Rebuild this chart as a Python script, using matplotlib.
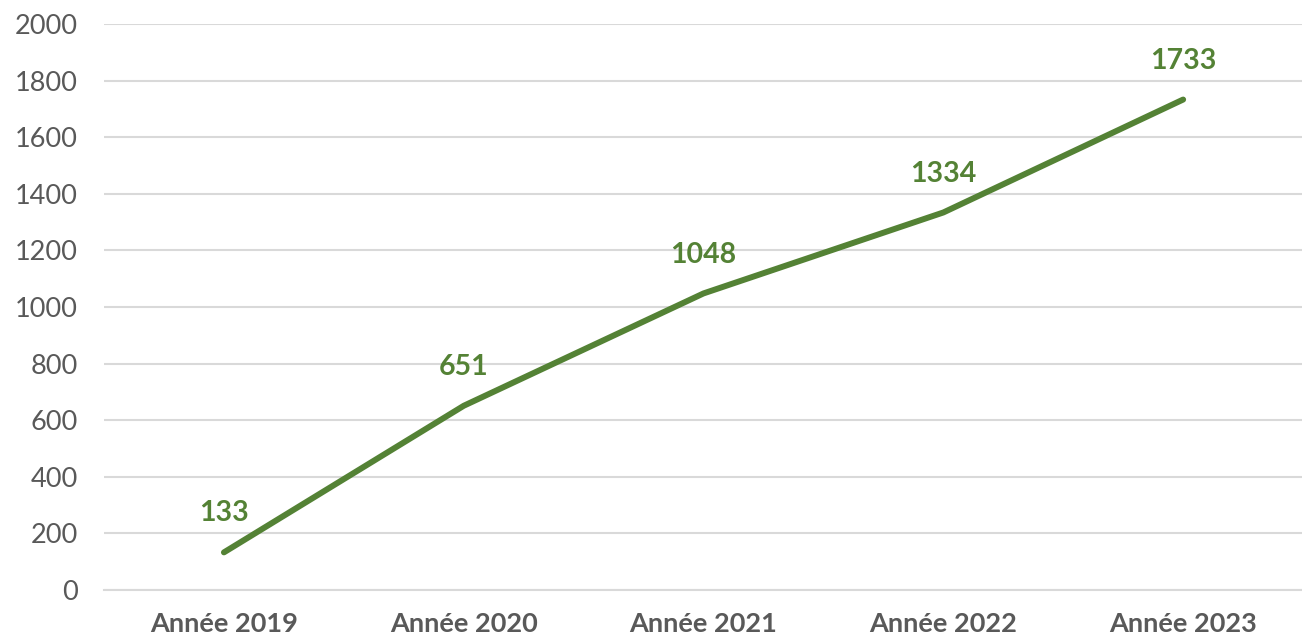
import matplotlib
matplotlib.use("Agg")
import matplotlib.pyplot as plt

# data
years = ["Année 2019", "Année 2020", "Année 2021", "Année 2022", "Année 2023"]
values = [133, 651, 1048, 1334, 1733]
yticks = [0, 200, 400, 600, 800, 1000, 1200, 1400, 1600, 1800, 2000]

green = "#548235"
grey_text = "#595959"

plt.rcParams["font.family"] = ["Lato", "DejaVu Sans"]

fig = plt.figure(figsize=(13.02, 6.43), dpi=100)
ax = fig.add_axes([0.0799, 0.0824, 0.9209, 0.8803])

x = list(range(len(years)))
ax.plot(x, values, color=green, linewidth=4.3, solid_capstyle="round", zorder=3)

for xi, v in zip(x, values):
    ax.annotate(str(v), (xi, v), xytext=(0, 28), textcoords="offset points",
                ha="center", va="center", color=green, fontsize=20.5, fontweight="bold")

ax.set_xlim(-0.5, 4.5)
ax.set_ylim(0, 2000)
ax.set_yticks(yticks)
ax.set_xticks(x)
ax.set_xticklabels(years, fontweight="bold")
ax.grid(axis="y", color="#d9d9d9", linewidth=1.5, zorder=0)
ax.tick_params(axis="y", length=0, labelsize=19.5, labelcolor=grey_text, pad=19)
ax.tick_params(axis="x", length=0, labelsize=19.5, labelcolor=grey_text, pad=16)
for s in ["top", "right", "left"]:
    ax.spines[s].set_visible(False)
ax.spines["bottom"].set_color("#d9d9d9")
ax.spines["bottom"].set_linewidth(1.5)

fig.savefig("out.png", dpi=100)
